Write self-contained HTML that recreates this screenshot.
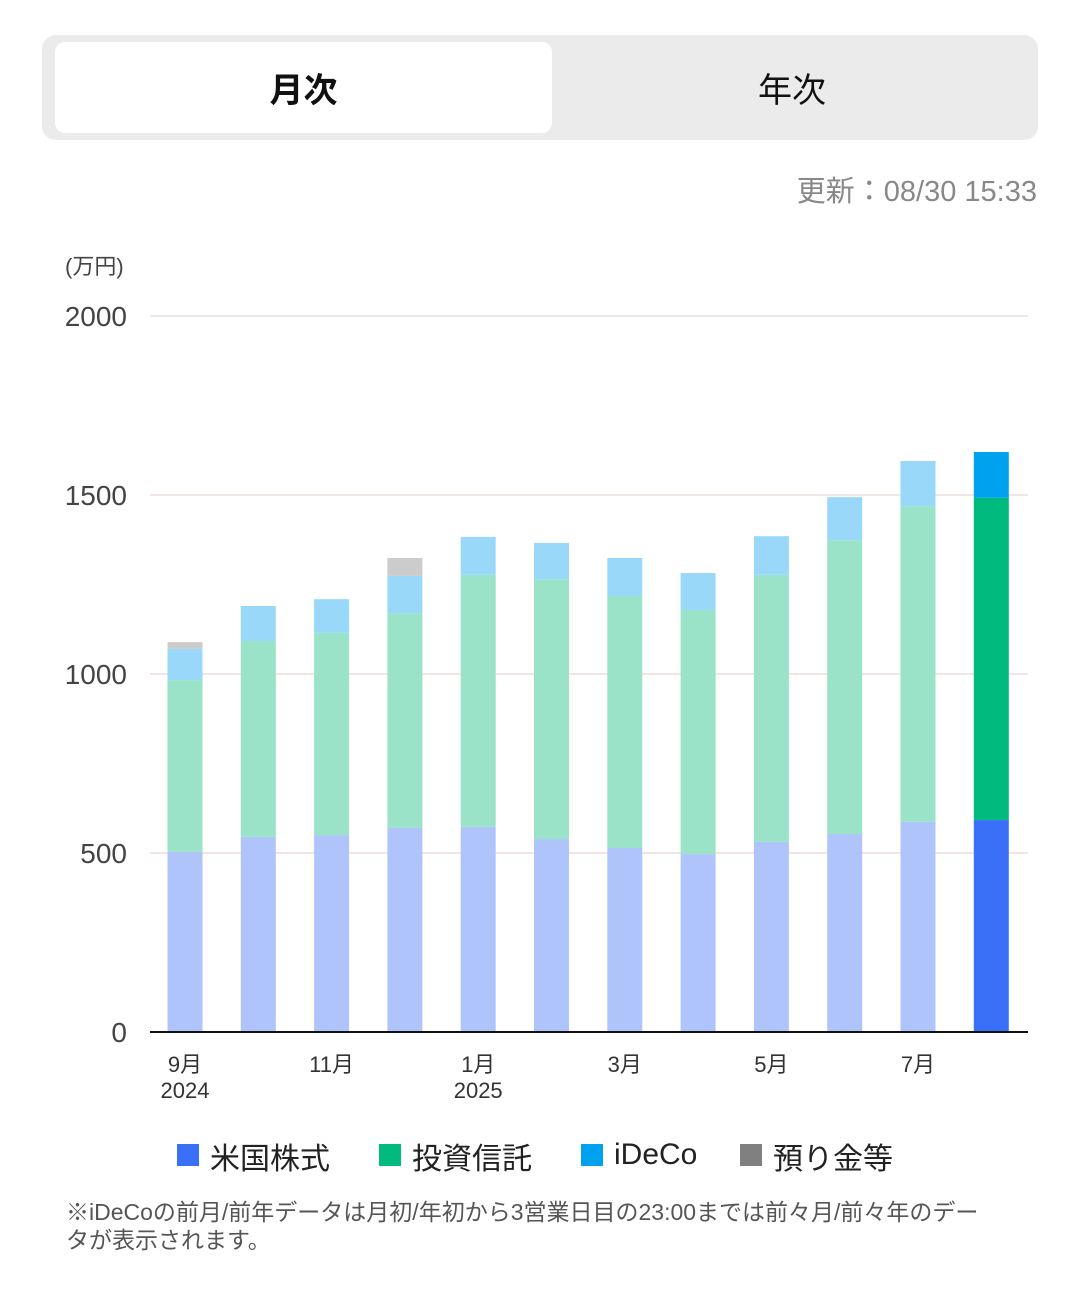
<!DOCTYPE html>
<html><head><meta charset="utf-8">
<style>
body{margin:0;width:1080px;height:1289px;background:#fff;font-family:"Liberation Sans","Noto Sans CJK JP",sans-serif;position:relative;overflow:hidden}
.abs{position:absolute}
</style></head><body>
<div class="abs" style="left:42px;top:35px;width:996px;height:105px;background:#ebebeb;border-radius:14px"></div>
<div class="abs" style="left:55px;top:42px;width:497px;height:91px;background:#fff;border-radius:10px;text-align:center;line-height:98px;font-size:34px;font-weight:bold;color:#111">月次</div>
<div class="abs" style="left:552px;top:42px;width:480px;height:91px;text-align:center;line-height:98px;font-size:34px;color:#111">年次</div>
<div class="abs" style="right:43px;top:168px;font-size:29px;color:#888">更新：08/30 15:33</div>
<svg class="abs" style="left:0;top:0" width="1080" height="1289">
<g id="g"></g>
</svg>
<div class="abs" style="left:0;top:1134px;width:1080px;font-size:30px;color:#222">
<span class="abs" style="left:177px;top:10px;width:22px;height:22px;background:#3a6ff8"></span><span class="abs" style="left:210px;top:0">米国株式</span>
<span class="abs" style="left:379px;top:10px;width:22px;height:22px;background:#00bb7d"></span><span class="abs" style="left:412px;top:0">投資信託</span>
<span class="abs" style="left:581px;top:10px;width:22px;height:22px;background:#00a2f0"></span><span class="abs" style="left:614px;top:4px">iDeCo</span>
<span class="abs" style="left:740px;top:10px;width:22px;height:22px;background:#808080"></span><span class="abs" style="left:773px;top:0">預り金等</span>
</div>
<div class="abs" style="left:66px;top:1198px;width:935px;font-size:23px;line-height:28px;color:#555">※iDeCoの前月/前年データは月初/年初から3営業日目の23:00までは前々月/前々年のデータが表示されます。</div>
<script>
const months=["9月","","11月","","1月","","3月","","5月","","7月",""];
const years=["2024","","","","2025","","","","","","",""];
const usStock=[503,545,550,570,573,539,514,497,531,553,587,592];
const trust=[480,547,565,600,704,726,704,682,746,821,882,900];
const ideco=[87,98,94,104,106,101,106,103,108,120,126,128];
const cash=[19,0,0,50,0,0,0,0,0,0,0,0];
const yTicks=[0,500,1000,1500,2000];
const NS="http://www.w3.org/2000/svg";
const g=document.getElementById('g');
const y0=1032,sc=358/1000,x0=185,dx=73.3,bw=35;
const Y=v=>y0-v*sc, X=i=>x0+i*dx;
function el(t,a){const e=document.createElementNS(NS,t);for(const k in a)e.setAttribute(k,a[k]);g.appendChild(e);return e;}
yTicks.forEach(v=>{
 if(v>0){const l=el('line',{x1:150,x2:1028,y1:Y(v),y2:Y(v),stroke:'#f0dcdc','stroke-width':1.5});
 }
 const t=el('text',{x:127,y:Y(v)+10,'text-anchor':'end','font-size':28,fill:'#444'});t.textContent=v;
 
});
const u=el('text',{x:65,y:274,'font-size':22,fill:'#444'});u.textContent='(万円)';

const light=['#b0c4fc','#9ae3c9','#9ad8fa','#cccccc'],dark=['#3a6ff8','#00bb7d','#00a2f0','#808080'];
const series=[usStock,trust,ideco,cash],names=['us-stock','trust','ideco','cash'];
for(let i=0;i<usStock.length;i++){
 let acc=0;const last=i===usStock.length-1;
 series.forEach((s,k)=>{const v=s[i];if(v<=0)return;
  const r=el('rect',{x:X(i)-bw/2,y:Y(acc+v),width:bw,height:v*sc,fill:(last?dark:light)[k]});
  acc+=v;});
 if(months[i]){const t=el('text',{x:X(i),y:1072,'text-anchor':'middle','font-size':22,fill:'#333'});t.textContent=months[i];
  }
 if(years[i]){const t=el('text',{x:X(i),y:1098,'text-anchor':'middle','font-size':22,fill:'#333'});t.textContent=years[i];
  }
}
const ax=el('line',{x1:150,x2:1028,y1:y0,y2:y0,stroke:'#111','stroke-width':2});

</script>
</body></html>
